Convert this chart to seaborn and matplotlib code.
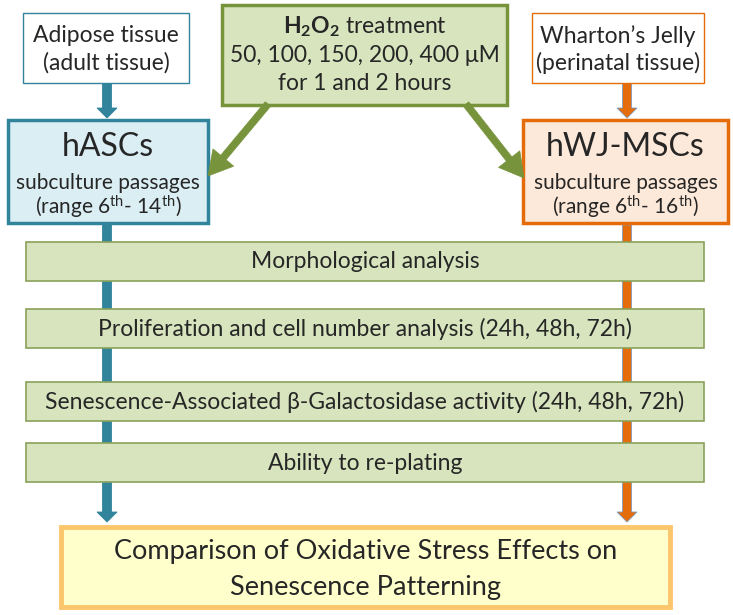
import matplotlib
matplotlib.use("Agg")
import matplotlib.pyplot as plt
from matplotlib.patches import Rectangle, FancyArrow
import seaborn as sns

sns.set_theme(style="white")
plt.rcParams['font.family'] = ['Lato', 'DejaVu Sans']
plt.rcParams['mathtext.fontset'] = 'custom'
plt.rcParams['mathtext.rm'] = 'Lato'
plt.rcParams['mathtext.it'] = 'Lato:italic'
plt.rcParams['mathtext.bf'] = 'Lato:bold'

# ---------------------------------
# texts of the flowchart
# ---------------------------------
source_left = ["Adipose tissue", "(adult tissue)"]
source_right = ["Wharton\u2019s Jelly", "(perinatal tissue)"]
treatment = [r"$\mathbf{H_2O_2}$ treatment", "50, 100, 150, 200, 400 \u03bcM", "for 1 and 2 hours"]
cells_left = ["hASCs", "subculture passages", r"(range 6$^{\rm th}$- 14$^{\rm th}$)"]
cells_right = ["hWJ-MSCs", "subculture passages", r"(range 6$^{\rm th}$- 16$^{\rm th}$)"]
analyses = [
    "Morphological analysis",
    "Proliferation and cell number analysis (24h, 48h, 72h)",
    "Senescence-Associated \u03b2-Galactosidase activity (24h, 48h, 72h)",
    "Ability to re-plating",
]
result = ["Comparison of Oxidative Stress Effects on", "Senescence Patterning"]

# colours
blue = "#31849b"
orange = "#e46c0a"
green_fill = "#d7e4bd"
green_edge = "#77933c"

fig = plt.figure(figsize=(7.33, 6.15), dpi=100)
ax = fig.add_axes([0, 0, 1, 1])
ax.set_xlim(0, 733)
ax.set_ylim(615, 0)
ax.axis("off")


def box(x0, y0, x1, y1, fc, ec, lw, z=2):
    ax.add_patch(Rectangle((x0, y0), x1 - x0, y1 - y0, facecolor=fc,
                           edgecolor=ec, linewidth=lw, zorder=z))


def down_arrow(x, y0, y1, color, ec=None, z=1):
    ax.add_patch(FancyArrow(x, y0, 0, y1 - y0, width=9, head_width=20,
                            head_length=10, length_includes_head=True,
                            facecolor=color, edgecolor=ec or color,
                            linewidth=0.6, zorder=z))


# long vertical lines behind the analysis bars
down_arrow(107, 225, 522, blue)
down_arrow(627, 225, 522, orange, ec="#7f9cc0")

# source boxes
box(23, 13, 189, 83, "white", blue, 1.0)
box(532, 13, 704, 83, "white", orange, 1.0)
for cx, lines in [(106, source_left), (618, source_right)]:
    ax.text(cx, 36, lines[0], ha="center", va="center", fontsize=16.5, zorder=3)
    ax.text(cx, 63, lines[1], ha="center", va="center", fontsize=16.5, zorder=3)
down_arrow(107, 83, 118, blue)
down_arrow(627, 83, 118, orange, ec="#7f9cc0")

# treatment box
box(222, 5, 507, 105, green_fill, green_edge, 2.5)
for i, t in enumerate(treatment):
    ax.text(365, 27 + i * 28, t, ha="center", va="center", fontsize=16.5, zorder=3)

# green arrows
for (xs, ys, xe, ye) in [(268, 104, 208, 176), (466, 104, 524, 178)]:
    ax.add_patch(FancyArrow(xs, ys, xe - xs, ye - ys, width=7, head_width=27,
                            head_length=24, length_includes_head=True,
                            facecolor="#77933c", edgecolor="#77933c",
                            linewidth=0.5, zorder=4))

# cell boxes
box(8, 120, 208, 223, "#dbeef4", blue, 2.5)
box(523, 120, 728, 223, "#fde9d9", orange, 2.5)
for cx, lines in [(108, cells_left), (625.5, cells_right)]:
    ax.text(cx, 147, lines[0], ha="center", va="center", fontsize=23, zorder=3)
    ax.text(cx, 183, lines[1], ha="center", va="center", fontsize=15, zorder=3)
    ax.text(cx, 207, lines[2], ha="center", va="center", fontsize=15, zorder=3)

# analysis bars
bar_tops = [242, 309, 382, 443]
for top, label in zip(bar_tops, analyses):
    box(26, top, 704, top + 39, green_fill, "#8aa15a", 1.2, z=2)
    ax.text(365, top + 20, label, ha="center", va="center", fontsize=16.5, zorder=3)

# result box
box(61, 527, 670, 607, "#ffffcc", "#fcc66c", 3.5)
ax.text(365.5, 552, result[0], ha="center", va="center", fontsize=19.5, zorder=3)
ax.text(365.5, 587, result[1], ha="center", va="center", fontsize=19.5, zorder=3)

fig.savefig("out.png", dpi=100)
